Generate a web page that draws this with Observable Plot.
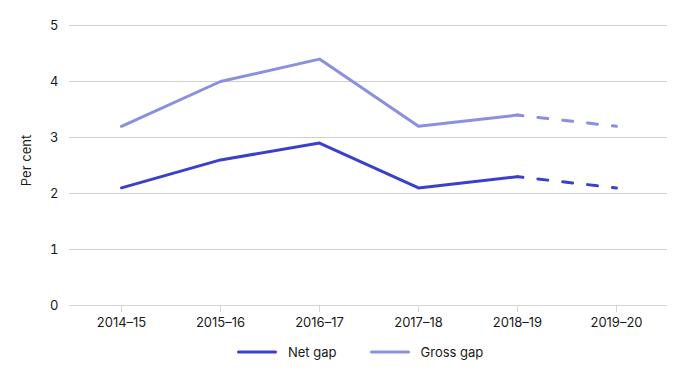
<!DOCTYPE html>
<html><head><meta charset="utf-8">
<script src="https://cdn.jsdelivr.net/npm/d3@7"></script>
<script src="https://cdn.jsdelivr.net/npm/@observablehq/plot@0.6"></script>
<style>
body{margin:0;background:#fff;font-family:Inter,sans-serif;}
#legend{display:flex;justify-content:flex-start;align-items:center;height:44px;font-size:13px;color:#1a1a1a;padding-left:237px;}
.item{display:flex;align-items:center;margin-right:33px;}
.item svg{margin-right:11px;}
</style></head><body>
<div id="chart"></div>
<div id="legend"></div>
<script>
const years = ["2014–15","2015–16","2016–17","2017–18","2018–19","2019–20"];
const netGap = [2.1, 2.6, 2.9, 2.1, 2.3, 2.1];
const grossGap = [3.2, 4.0, 4.4, 3.2, 3.4, 3.2];
const lastActual = 4; // index of last actual year; after that estimate (dashed)
const yTicks = [0, 1, 2, 3, 4, 5];
const seriesNames = ["Net gap","Gross gap"];
const colors = ["#3a40c8","#8a8fe0"];

const rows = [];
[netGap, grossGap].forEach((vals, s) => vals.forEach((v, i) => rows.push({year: years[i], value: v, series: seriesNames[s], i})));
const solid = rows.filter(d => d.i <= lastActual);
const dashed = rows.filter(d => d.i >= lastActual);

const plot = Plot.plot({
  width: 689, height: 330,
  marginLeft: 69, marginRight: 22, marginTop: 25, marginBottom: 25,
  style: {fontFamily: "Inter, sans-serif", fontSize: "13px", color: "#1a1a1a"},
  x: {type: "point", domain: years, padding: 0.5, label: null},
  y: {domain: [0, 5], label: null},
  color: {domain: seriesNames, range: colors},
  marks: [
    Plot.gridY(yTicks, {stroke: "#d0d0d0", strokeOpacity: 1, strokeWidth: 1}),
    Plot.ruleY([0], {stroke: "#d6d6d6"}),
    Plot.axisX({tickSize: 7, tickPadding: 5, stroke: "#d6d6d6", label: null, fontSize: 13}),
    Plot.axisY(yTicks, {tickSize: 0, tickPadding: 11, label: null, tickFormat: d3.format("d"), fontSize: 13}),
    Plot.text(["Per cent"], {frameAnchor: "left", textAnchor: "middle", dx: -43, dy: -5, rotate: -90, fontSize: 13, fill: "#1a1a1a"}),
    Plot.line(solid, {x: "year", y: "value", z: "series", stroke: "series", strokeWidth: 3, strokeLinecap: "round", strokeLinejoin: "round"}),
    Plot.line(dashed, {x: "year", y: "value", z: "series", stroke: "series", strokeWidth: 3, strokeLinecap: "round", strokeDasharray: "10,15", strokeDashoffset: 4.5})
  ]
});
document.getElementById("chart").appendChild(plot);

const leg = document.getElementById("legend");
seriesNames.forEach((n, k) => {
  const it = document.createElement("div");
  it.className = "item";
  it.innerHTML = `<svg width="40" height="6"><line x1="1.5" y1="3" x2="38.5" y2="3" stroke="${colors[k]}" stroke-width="3" stroke-linecap="round"/></svg><span>${n}</span>`;
  leg.appendChild(it);
});
</script>
</body></html>
